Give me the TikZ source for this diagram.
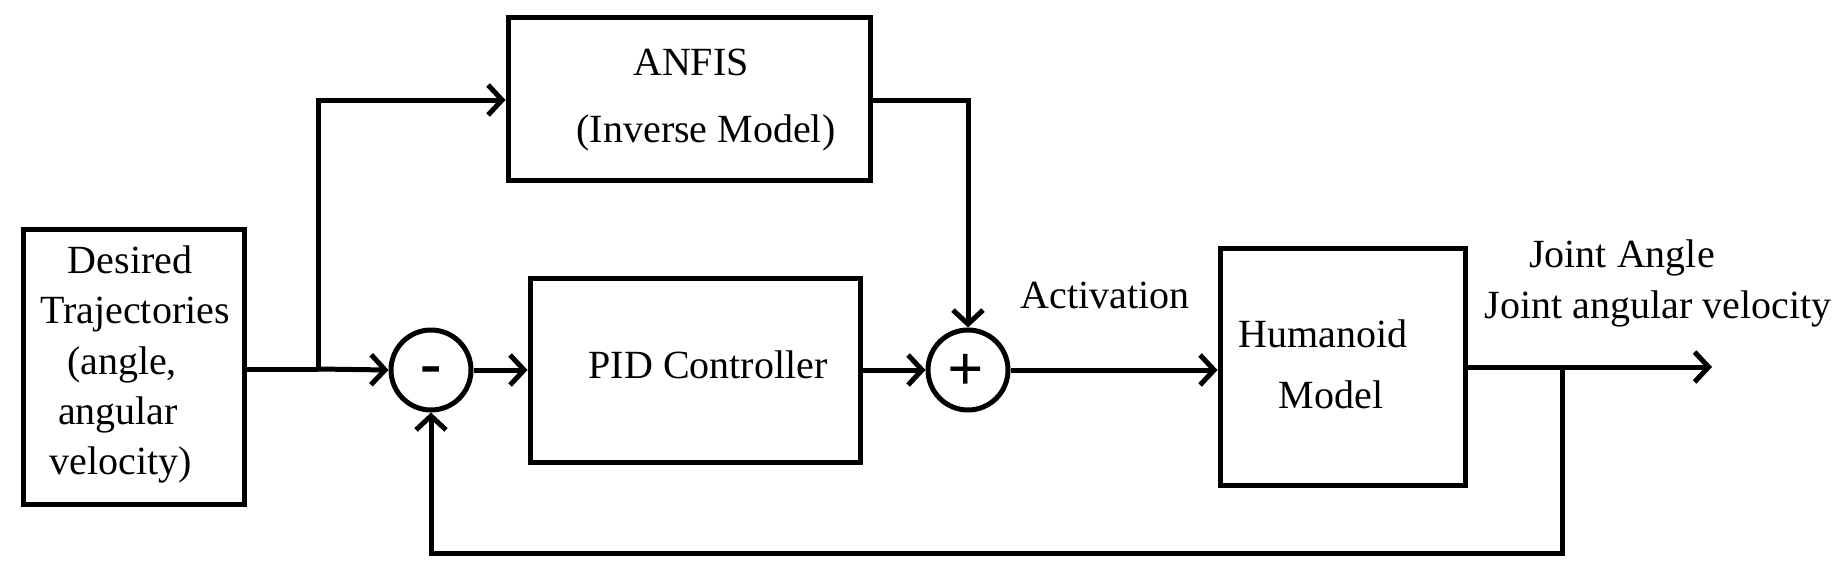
\documentclass[tikz,border=0pt]{standalone}
\usepackage{fontspec}
\setmainfont{Liberation Serif}
\usetikzlibrary{arrows.meta}
\begin{document}
\begin{tikzpicture}[x=1pt,y=-1pt,
  line width=5pt,
  blk/.style={draw,rectangle,inner sep=0pt},
  sumnode/.style={draw,circle,minimum size=80pt,inner sep=0pt},
  signfont/.style={font=\bfseries\fontsize{64}{70}\selectfont,inner sep=0pt},
  lbl/.style={font=\fontsize{40}{46}\selectfont,inner sep=0pt,anchor=base},
  arr/.style={-{Straight Barb[length=14pt,width=30pt,line width=5pt]}}]
\useasboundingbox (0,0) rectangle (1836,565);
% boxes
\node[blk,minimum width=221pt,minimum height=275pt] (des) at (133.5,366.5) {};
\node[blk,minimum width=362pt,minimum height=163pt] (anfis) at (689,98.5) {};
\node[blk,minimum width=330pt,minimum height=184pt] (pid) at (695,370) {};
\node[blk,minimum width=245pt,minimum height=237pt] (hum) at (1342.5,366.5) {};
\node[sumnode] (minus) at (431,370) {};
\node[sumnode] (plus) at (968,370) {};
\node[signfont] (ms) at (431,376) {-};
\node[signfont] (ps) at (966,372) {+};
% box texts
\node[lbl] (d1) at (130,273) {Desired};
\node[lbl] (d2) at (135,323) {Trajectories};
\node[lbl] (d3) at (122,374) {(angle,};
\node[lbl] (d4) at (118,424) {angular};
\node[lbl] (d5) at (121,474) {velocity)};
\node[lbl] (a1) at (691,75) {ANFIS};
\node[lbl] (a2) at (706,142) {(Inverse Model)};
\node[lbl] (p1) at (708,378) {PID Controller};
\node[lbl] (h1) at (1323,347) {Humanoid};
\node[lbl] (h2) at (1331,408) {Model};
% signal labels
\node[lbl] (act) at (1105,308) {Activation};
\node[lbl] (ja) at (1622,267) {Joint Angle};
\node[lbl] (jav) at (1658,318) {Joint angular velocity};
% connectors
\coordinate (br) at (318,369);
\coordinate (out) at (1712,367);
\coordinate (fb) at (1562,367);
\draw (des.east |- br) -- (br);
\draw[arr] (br) -- (minus.west);
\draw[arr] (br) |- (anfis.west |- 0,100);
\draw[arr] (anfis.east |- 0,100) -| (plus.north);
\draw[arr] (minus.east) -- (pid.west |- minus.east);
\draw[arr] (pid.east |- plus.west) -- (plus.west);
\draw[arr] (plus.east) -- (hum.west |- plus.east);
\draw[arr] (hum.east |- out) -- (out);
\draw[arr] (fb) -- (fb |- 0,553) -| (minus.south);
\end{tikzpicture}
\end{document}
